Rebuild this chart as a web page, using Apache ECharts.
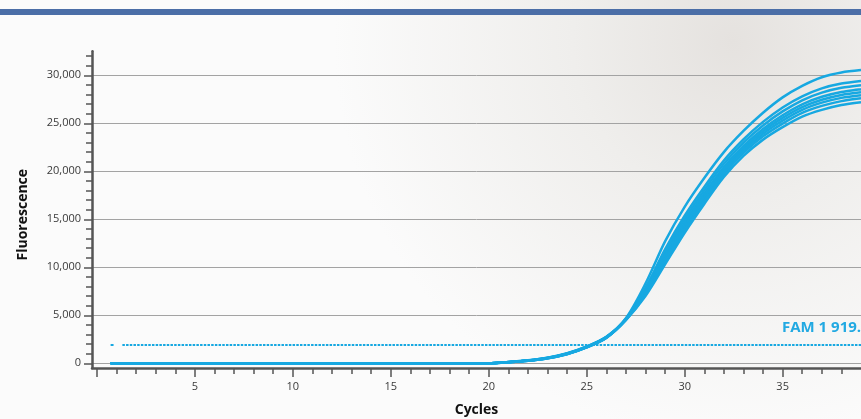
<!DOCTYPE html>
<html>
<head>
<meta charset="utf-8">
<script src="https://cdn.jsdelivr.net/npm/echarts@6/dist/echarts.min.js"></script>
<style>
html,body{margin:0;padding:0;background:#fafafa;}
#chart{width:861px;height:419px;}
</style>
</head>
<body>
<div id="chart"></div>
<script>
// Cycle positions (x) shared by all amplification curves
const cycles = [0.7,1,2,3,4,5,6,7,8,9,10,11,12,13,14,15,16,17,18,19,20,21,22,23,24,25,26,27,28,29,30,31,32,33,34,35,36,37,38,39];

// Fluorescence of each well (baseline-subtracted)
const wellA = [0,0,0,0,0,0,0,0,0,0,0,0,0,0,0,0,0,0,0,0,0,140,310,590,1060,1760,2760,4700,8300,12700,16300,19300,22000,24200,26100,27700,28900,29800,30300,30550];
const wellB = [0,0,0,0,0,0,0,0,0,0,0,0,0,0,0,0,0,0,0,0,0,130,300,570,1030,1730,2730,4650,7860,11880,15380,18380,21120,23320,25150,26650,27810,28640,29140,29410];
const wellC = [0,0,0,0,0,0,0,0,0,0,0,0,0,0,0,0,0,0,0,0,0,125,290,560,1010,1710,2710,4620,7690,11570,15030,18030,20780,22980,24780,26240,27400,28200,28700,28970];
const wellD = [0,0,0,0,0,0,0,0,0,0,0,0,0,0,0,0,0,0,0,0,0,120,280,550,1000,1700,2700,4590,7520,11260,14680,17680,20440,22640,24420,25840,26980,27760,28260,28540];
const wellE = [0,0,0,0,0,0,0,0,0,0,0,0,0,0,0,0,0,0,0,0,0,118,275,540,990,1690,2690,4570,7400,11040,14440,17440,20200,22400,24170,25560,26690,27450,27950,28230];
const wellF = [0,0,0,0,0,0,0,0,0,0,0,0,0,0,0,0,0,0,0,0,0,115,270,535,975,1675,2675,4550,7290,10830,14190,17190,19970,22170,23920,25280,26400,27150,27650,27930];
const wellG = [0,0,0,0,0,0,0,0,0,0,0,0,0,0,0,0,0,0,0,0,0,112,265,525,960,1660,2660,4520,7160,10590,13920,16920,19710,21910,23640,24970,26080,26810,27310,27600];
const wellH = [0,0,0,0,0,0,0,0,0,0,0,0,0,0,0,0,0,0,0,0,0,110,260,520,950,1650,2650,4500,7000,10300,13600,16600,19400,21600,23300,24600,25700,26400,26900,27190];
const wells = [wellA, wellB, wellC, wellD, wellE, wellF, wellG, wellH];

// Threshold
const thresholdValue = 1919;
const thresholdSegments = [[0.7, 0.85], [1.3, 39]];
const thresholdLabel = 'FAM 1 919.';

// Axis ticks / labels
const yLabelValues = [0, 5000, 10000, 15000, 20000, 25000, 30000];
const yMinorValues = [0,1000,2000,3000,4000,5000,6000,7000,8000,9000,10000,11000,12000,13000,14000,15000,16000,17000,18000,19000,20000,21000,22000,23000,24000,25000,26000,27000,28000,29000,30000,31000,32000];
const xMajorValues = [0, 5, 10, 15, 20, 25, 30, 35];
const xLabelValues = [5, 10, 15, 20, 25, 30, 35];
const xMinorValues = [0,1,2,3,4,5,6,7,8,9,10,11,12,13,14,15,16,17,18,19,20,21,22,23,24,25,26,27,28,29,30,31,32,33,34,35,36,37,38];

const CURVE = '#17a8e1';
const AXIS = '#555555';
const FONT = "'Open Sans', 'Noto Sans', sans-serif";

const chart = echarts.init(document.getElementById('chart'), null, {renderer: 'canvas'});

const series = wells.map((w, i) => ({
  type: 'line',
  name: 'Well ' + (i + 1),
  data: cycles.map((c, j) => [c, w[j]]),
  showSymbol: false,
  symbol: 'none',
  smooth: 0.3,
  lineStyle: {color: CURVE, width: 2.5},
  z: 3,
  silent: true
}));

thresholdSegments.forEach((seg, i) => {
  series.push({
    type: 'line',
    name: 'Threshold ' + i,
    data: seg.map(c => [c, thresholdValue]),
    showSymbol: false,
    symbol: 'none',
    lineStyle: {color: CURVE, width: 2, type: i === 0 ? 'solid' : [2.5, 1.2]},
    z: 3,
    silent: true
  });
});

const option = {
  animation: false,
  backgroundColor: '#fafafa',
  graphic: [
    {
      type: 'rect', z: -100, silent: true,
      shape: {x: 0, y: 0, width: 861, height: 419},
      style: {fill: new echarts.graphic.RadialGradient(0.85, 0.1, 0.95, [
        {offset: 0, color: '#e5e2df'},
        {offset: 0.4, color: '#efeeec'},
        {offset: 1, color: '#fbfbfb'}
      ])}
    },
    {
      type: 'rect', z: 100, silent: true,
      shape: {x: 0, y: 9, width: 861, height: 6},
      style: {fill: '#4b6ea7'}
    },
    {
      type: 'text', z: 100, silent: true,
      left: 782, top: 320,
      style: {text: thresholdLabel, fill: '#22a9e2', font: "bold 15px 'Open Sans', sans-serif"}
    }
  ],
  grid: {left: 92, right: 0, top: 51.3, bottom: 50.9, containLabel: false, outerBoundsMode: 'none'},
  xAxis: [
    {
      type: 'value', min: -0.25, max: 39, position: 'bottom',
      name: 'Cycles', nameLocation: 'middle', nameGap: 35,
      nameTextStyle: {fontFamily: FONT, fontWeight: 'bold', fontSize: 14, color: '#111'},
      axisLine: {show: true, onZero: false, lineStyle: {color: AXIS, width: 2.5}},
      axisTick: {show: true, customValues: xMajorValues, length: 9, lineStyle: {color: AXIS, width: 1.5}},
      axisLabel: {show: true, customValues: xLabelValues, margin: 13, fontFamily: FONT, fontSize: 11, color: '#3a3a3a'},
      splitLine: {show: false}
    },
    {
      type: 'value', min: -0.25, max: 39, position: 'bottom',
      axisLine: {show: false, onZero: false},
      axisTick: {show: true, customValues: xMinorValues, length: 6, lineStyle: {color: AXIS, width: 1.5}},
      axisLabel: {show: false},
      splitLine: {show: false}
    }
  ],
  yAxis: [
    {
      type: 'value', min: -500, max: 32500, position: 'left',
      name: 'Fluorescence', nameLocation: 'middle', nameGap: 62, nameRotate: 90,
      nameTextStyle: {fontFamily: FONT, fontWeight: 'bold', fontSize: 14, color: '#111', padding: [0, 10, 0, 0]},
      axisLine: {show: true, onZero: false, lineStyle: {color: AXIS, width: 2.5}},
      axisTick: {show: true, customValues: yLabelValues, length: 8, lineStyle: {color: AXIS, width: 1.5}},
      axisLabel: {show: true, customValues: yLabelValues, margin: 11, fontFamily: FONT, fontSize: 11, color: '#3a3a3a',
        formatter: v => v.toLocaleString('en-US')},
      splitLine: {show: true, lineStyle: {color: '#a3a3a3', width: 1}}
    },
    {
      type: 'value', min: -500, max: 32500, position: 'left',
      axisLine: {show: false, onZero: false},
      axisTick: {show: true, customValues: yMinorValues, length: 6, lineStyle: {color: AXIS, width: 1.5}},
      axisLabel: {show: false},
      splitLine: {show: false}
    }
  ],
  series: series
};

chart.setOption(option);
</script>
</body>
</html>
